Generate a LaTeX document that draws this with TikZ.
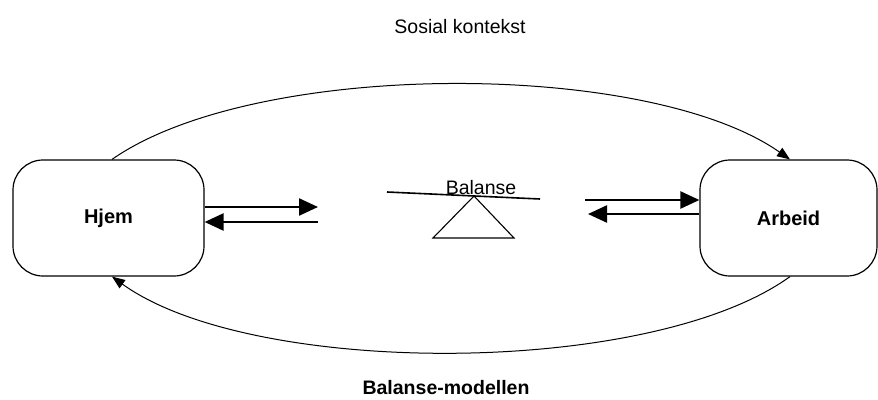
\documentclass[tikz,border=0pt]{standalone}
\usepackage{fontspec}
\setmainfont{Liberation Sans}
\usetikzlibrary{arrows.meta}

\begin{document}
\begin{tikzpicture}[x=1pt, y=-1pt,
    box/.style={draw, line width=1.2pt, rounded corners=30pt, minimum height=116pt, font=\fontsize{20}{24}\selectfont\bfseries},
    pil/.style={line width=2.4pt, -{Triangle[length=19pt,width=17pt]}},
    bue/.style={line width=1pt, -{Triangle[length=13pt,width=10pt]}},
    tekst/.style={font=\fontsize{19.5}{23}\selectfont}]
  \useasboundingbox (0,0) rectangle (878,399);
  % title texts
  \node[tekst] (sosial) at (460,27) {Sosial kontekst};
  \node[tekst, font=\fontsize{19.5}{23}\selectfont\bfseries] (modell) at (446,388) {Balanse-modellen};
  % the two boxes
  \node[box, minimum width=191pt] (hjem) at (108.5,218) {Hjem};
  \node[box, minimum width=177pt] (arbeid) at (788.5,218) {Arbeid};
  % scale in the middle
  \node[tekst] (balanse) at (481,188) {Balanse};
  \draw[line width=1.6pt] (387,192) -- (540,199);
  \draw[line width=1.1pt] (474,196) -- (433,238) -- (514,238) -- cycle;
  % short arrows
  \coordinate (hjemUt) at (318,207);
  \coordinate (hjemInn) at (318,222);
  \coordinate (arbeidInn) at (585,200);
  \coordinate (arbeidUt) at (588,214);
  \draw[pil] (hjem.east |- hjemUt) -- (hjemUt);
  \draw[pil] (hjemInn) -- (hjem.east |- hjemInn);
  \draw[pil] (arbeidInn) -- (arbeid.west |- arbeidInn);
  \draw[pil] (arbeid.west |- arbeidUt) -- (arbeidUt);
  % big arcs
  \draw[bue] ([xshift=3.5pt]hjem.north) .. controls +(143,-100) and +(-143,-100) .. ([xshift=1.5pt]arbeid.north);
  \draw[bue] ([xshift=1.5pt]arbeid.south) .. controls +(-140,101) and +(140,101) .. ([xshift=3.5pt]hjem.south);
\end{tikzpicture}
\end{document}
